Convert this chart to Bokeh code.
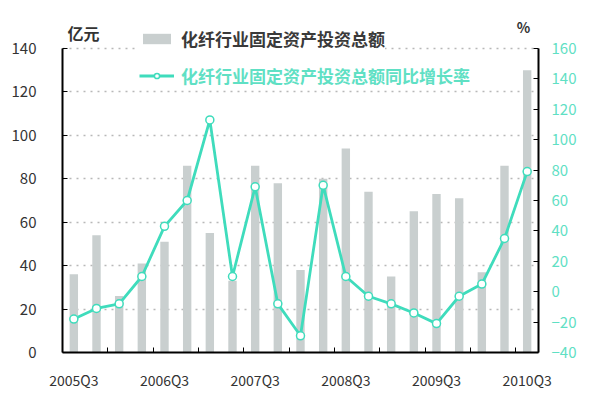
from bokeh.plotting import figure
from bokeh.models import (Range1d, LinearAxis, FixedTicker, Legend, LegendItem,
                          Label, ColumnDataSource)
from bokeh.embed import file_html
from bokeh.resources import INLINE

quarters = ["2005Q3", "2005Q4", "2006Q1", "2006Q2", "2006Q3", "2006Q4", "2007Q1",
            "2007Q2", "2007Q3", "2007Q4", "2008Q1", "2008Q2", "2008Q3", "2008Q4",
            "2009Q1", "2009Q2", "2009Q3", "2009Q4", "2010Q1", "2010Q2", "2010Q3"]
investment = [36, 54, 26, 41, 51, 86, 55, 33, 86, 78, 38, 80, 94, 74,
              35, 65, 73, 71, 37, 86, 130]
growth = [-18, -11, -8, 10, 43, 60, 113, 10, 69, -8, -29, 70, 10, -3,
          -8, -14, -21, -3, 5, 35, 79]
left_ticks = [0, 20, 40, 60, 80, 100, 120, 140]
right_ticks = [-40, -20, 0, 20, 40, 60, 80, 100, 120, 140, 160]
bar_name = "化纤行业固定资产投资总额"
line_name = "化纤行业固定资产投资总额同比增长率"

idx = list(range(len(quarters)))
src = ColumnDataSource(dict(x=idx, inv=investment, gr=growth, q=quarters))

BAR = "#c9cfcf"
CYAN = "#3fdcbc"
CYAN_T = "#5fe0c4"
DARK = "#333333"
FONT = "Noto Sans CJK SC"

# frame: left 62, right 538, axis 0 at y=352, axis top (140 / 160) at y=48
W, H = 584, 393
TOP = 14
left_top = 140 + (48 - TOP) * 140 / 304.0
right_top = 160 + (48 - TOP) * 200 / 304.0

p = figure(width=W, height=H, output_backend="svg", toolbar_location=None,
           x_range=Range1d(-0.5, len(quarters) - 0.5),
           y_range=Range1d(0, left_top),
           min_border_left=62, min_border_right=W - 538, min_border_top=TOP,
           min_border_bottom=H - 352)
p.extra_y_ranges = {"pct": Range1d(-40, right_top)}
p.outline_line_color = None
p.background_fill_color = "white"
p.border_fill_color = "white"
p.xgrid.grid_line_color = None
p.ygrid.ticker = FixedTicker(ticks=left_ticks[1:])
p.ygrid.grid_line_color = "#b8b8b8"
p.ygrid.grid_line_dash = "2 5"
p.ygrid.grid_line_width = 1.5

bars = p.vbar(x="x", top="inv", width=0.37, source=src, fill_color=BAR,
              line_color=None)
ln = p.line(x="x", y="gr", source=src, y_range_name="pct", line_color=CYAN,
            line_width=2.8)
pts = p.scatter(x="x", y="gr", source=src, y_range_name="pct", size=8,
                fill_color="white", line_color=CYAN, line_width=1.5)

# x axis
xa = p.xaxis[0]
label_pos = idx[::4]
xa.ticker = FixedTicker(ticks=label_pos, minor_ticks=[i + 1.5 for i in idx[:-1:2]])
xa.major_label_overrides = {i: quarters[i] for i in label_pos}
xa.major_tick_in = 0
xa.major_tick_out = 0
xa.minor_tick_in = 5
xa.minor_tick_out = 0
xa.minor_tick_line_color = "black"
xa.axis_line_color = "black"
xa.axis_line_width = 2
xa.major_label_standoff = 17
xa.major_label_text_font = FONT
xa.major_label_text_font_size = "14px"
xa.major_label_text_color = DARK

ya = p.yaxis[0]
ya.ticker = FixedTicker(ticks=left_ticks)
ya.bounds = (left_ticks[0], left_ticks[-1])
ya.major_tick_in = 5
ya.major_tick_out = 0
ya.minor_tick_line_color = None
ya.axis_line_color = "black"
ya.axis_line_width = 2
ya.major_label_standoff = 26
ya.major_label_text_font = FONT
ya.major_label_text_font_size = "15px"
ya.major_label_text_color = DARK

ra = LinearAxis(y_range_name="pct", ticker=FixedTicker(ticks=right_ticks))
ra.bounds = (right_ticks[0], right_ticks[-1])
ra.major_tick_in = 5
ra.major_tick_out = 0
ra.minor_tick_line_color = None
ra.axis_line_color = "black"
ra.axis_line_width = 2
ra.major_label_standoff = 13
ra.major_label_text_font = FONT
ra.major_label_text_font_size = "15px"
ra.major_label_text_color = CYAN_T
p.add_layout(ra, "right")

# legends
leg1 = Legend(items=[LegendItem(label=bar_name, renderers=[bars])],
              location=(77, 301), orientation="vertical", padding=8, margin=0,
              glyph_width=35, glyph_height=13, label_standoff=7,
              label_text_font=FONT, label_text_font_size="17px",
              label_text_font_style="bold", label_text_color="#3a3a3a",
              background_fill_color="white", background_fill_alpha=1,
              border_line_color=None)
leg2 = Legend(items=[LegendItem(label=line_name, renderers=[ln, pts])],
              location=(77, 264), orientation="vertical", padding=8, margin=0,
              glyph_width=35, glyph_height=13, label_standoff=7,
              label_text_font=FONT, label_text_font_size="17px",
              label_text_font_style="bold", label_text_color=CYAN_T,
              background_fill_color="white", background_fill_alpha=1,
              border_line_color=None)
p.add_layout(leg1, "center")
p.add_layout(leg2, "center")

p.add_layout(Label(x=0.43, y=147, text="亿元", text_font=FONT,
                   text_font_size="16px", text_font_style="bold",
                   text_color=DARK, text_align="center",
                   text_baseline="middle"))
p.add_layout(Label(x=19.84, y=174, y_range_name="pct", text="%", text_font=FONT,
                   text_font_size="14px", text_font_style="bold",
                   text_color=DARK, text_align="center",
                   text_baseline="middle"))

open("out.html", "w").write(file_html(p, INLINE))
